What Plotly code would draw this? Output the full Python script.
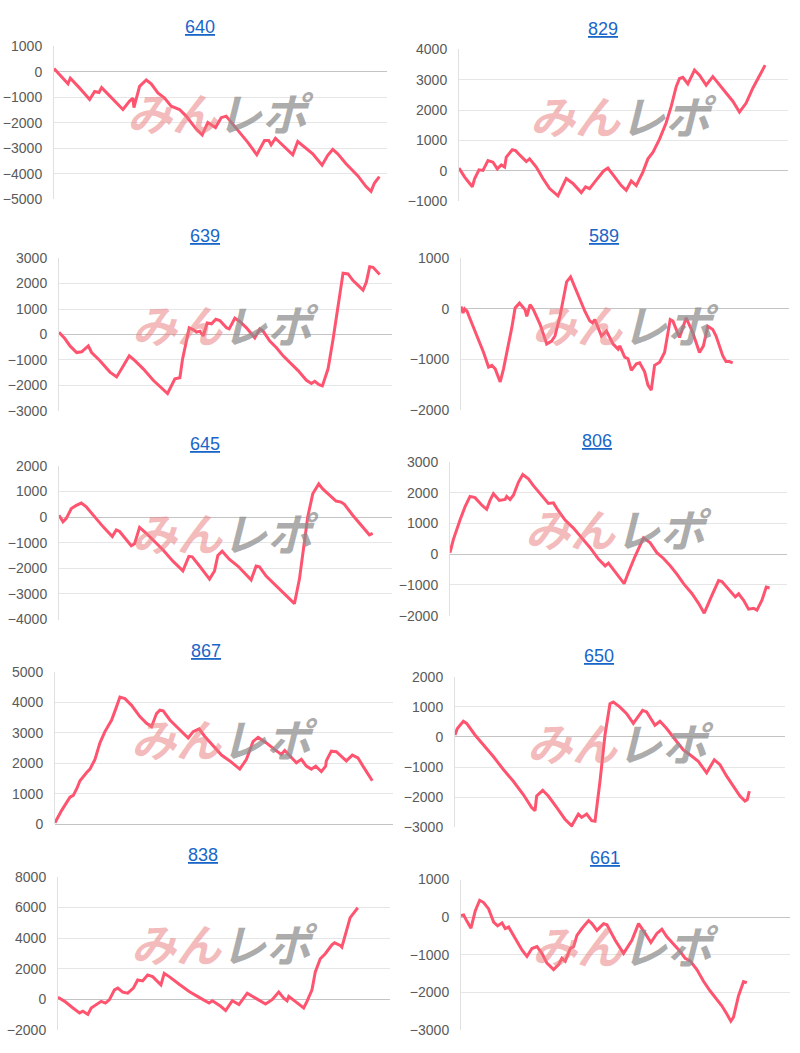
import plotly.graph_objects as go

# ---------------- data (games played vs. medal difference) ----------------
titles = ["640", "829", "639", "589", "645", "806", "867", "650", "838", "661"]

games_640 = [0,216,336,392,496,616,736,856,976,1080,1144,1256,1416,1656,1816,1896,1920,2056,2216,2336,2496,2656,2816,3016,3176,3416,3560,3696,3880,4016,4136,4296,4456,4656,4872,5056,5160,5216,5320,5496,5736,5856,5976,6216,6440,6576,6696,6816,7016,7296,7496,7616,7696,7816]
diff_640 = [130,-250,-470,-250,-450,-640,-860,-1090,-770,-810,-620,-810,-1090,-1480,-1150,-1030,-1410,-570,-320,-470,-830,-1030,-1350,-1480,-1740,-2250,-2480,-1990,-2190,-1800,-1740,-2060,-2380,-2770,-3260,-2700,-2700,-2870,-2610,-2900,-3260,-2740,-2900,-3220,-3670,-3280,-3050,-3220,-3610,-4080,-4510,-4700,-4380,-4120]

games_829 = [0,138,324,381,486,583,705,826,932,1029,1110,1150,1296,1377,1474,1636,1717,1879,2041,2203,2406,2608,2770,2973,3078,3175,3337,3515,3621,3783,3945,4066,4188,4309,4471,4593,4714,4876,5038,5160,5281,5362,5443,5565,5727,5848,6010,6172,6334,6496,6658,6820,6982,7144,7266,7444]
diff_829 = [85,-210,-530,-260,30,10,335,280,60,190,120,450,690,660,520,300,390,120,-260,-590,-830,-260,-420,-720,-530,-590,-310,-10,85,-210,-490,-650,-340,-490,-45,390,600,1040,1580,2120,2770,3040,3080,2860,3320,3150,2820,3100,2820,2540,2290,1930,2230,2720,3040,3480]

games_639 = [0,144,264,424,544,704,784,984,1224,1384,1504,1688,1824,2024,2264,2504,2608,2784,2904,2968,3128,3224,3304,3384,3464,3560,3664,3768,3864,4024,4088,4224,4344,4504,4704,4824,4904,5064,5224,5384,5544,5744,5944,6064,6144,6248,6328,6464,6584,6704,6824,6944,7064,7224,7304,7384,7464,7544,7704]
diff_639 = [90,-170,-450,-710,-680,-450,-710,-1030,-1480,-1670,-1350,-840,-1030,-1350,-1800,-2190,-2320,-1740,-1700,-970,260,190,90,130,-60,450,420,600,550,260,220,640,510,260,-130,220,130,-260,-520,-840,-1090,-1420,-1800,-1930,-1840,-1970,-2020,-1350,-190,1090,2410,2380,2120,1870,1740,2060,2660,2640,2360]

games_589 = [0,49,89,146,227,389,551,672,753,834,956,1037,1158,1239,1320,1426,1563,1604,1685,1766,1928,2090,2211,2292,2414,2495,2576,2673,2738,2900,3021,3143,3208,3264,3426,3548,3710,3831,3872,3993,4074,4155,4277,4358,4479,4560,4641,4722,4844,4965,5103,5168,5330,5492,5654,5816,5913,6018,6140,6221,6383,6464,6545,6626]
diff_589 = [45,-85,-5,-50,-215,-540,-865,-1155,-1120,-1190,-1450,-1190,-735,-375,15,110,-20,-150,80,-20,-310,-700,-640,-540,-150,175,530,630,500,175,-50,-245,-280,-215,-540,-440,-700,-800,-735,-960,-990,-1220,-1090,-1070,-1250,-1510,-1610,-1120,-1060,-865,-215,-245,-570,-180,-475,-865,-735,-345,-410,-540,-930,-1045,-1045,-1070]

games_645 = [0,96,176,296,416,536,656,816,1056,1280,1376,1456,1616,1736,1816,1936,2096,2256,2496,2736,2976,3120,3200,3376,3616,3736,3816,3920,4096,4296,4496,4616,4736,4816,4976,5216,5456,5656,5776,5896,5976,6096,6240,6336,6496,6656,6776,6856,7056,7256,7456,7536]
diff_645 = [75,-180,-50,335,460,550,400,75,-370,-760,-500,-560,-860,-1115,-1040,-400,-630,-885,-1270,-1720,-2100,-1530,-1550,-1910,-2420,-2100,-1500,-1330,-1650,-1910,-2230,-2450,-1910,-1940,-2300,-2680,-3060,-3380,-2420,-885,15,910,1295,1100,850,630,590,500,75,-310,-690,-630]

games_806 = [0,79,238,356,475,594,752,871,950,1030,1172,1307,1346,1426,1505,1624,1727,1861,1980,2138,2336,2455,2534,2732,2930,3128,3326,3524,3683,3762,3920,4134,4237,4396,4594,4752,4910,5069,5227,5386,5544,5742,5900,6035,6217,6376,6455,6613,6772,6851,6970,7088,7207,7286,7405,7508,7587]
diff_806 = [50,475,1110,1540,1880,1840,1600,1460,1750,1970,1750,1780,1880,1780,1920,2340,2590,2450,2230,1970,1650,1670,1490,1110,850,530,210,-160,-380,-290,-590,-960,-590,-60,530,370,50,-140,-380,-650,-960,-1280,-1600,-1920,-1340,-860,-890,-1130,-1390,-1290,-1500,-1790,-1760,-1820,-1500,-1070,-1100]

games_867 = [0,158,355,433,512,591,749,827,946,1064,1182,1340,1442,1537,1655,1812,2009,2167,2285,2403,2482,2561,2719,2955,3152,3270,3412,3546,3743,3940,4137,4373,4531,4689,4807,5004,5201,5358,5437,5555,5713,5831,5949,6068,6170,6304,6406,6422,6540,6659,6816,6895,7037,7171,7289,7407,7510]
diff_867 = [55,460,890,950,1160,1430,1700,1810,2130,2670,3040,3420,3800,4170,4120,3900,3530,3310,3200,3630,3740,3720,3420,3100,2830,3040,3130,2880,2560,2270,2080,1810,2130,2720,2850,2670,2450,2290,2420,2240,2020,2130,1910,1810,1910,1730,1910,2080,2400,2380,2180,2080,2270,2180,1910,1650,1430]

games_650 = [0,57,202,283,485,687,929,1172,1414,1656,1858,1939,1980,2125,2262,2464,2666,2828,2990,3070,3192,3313,3394,3515,3636,3757,3838,4000,4161,4323,4484,4549,4646,4848,4969,5131,5373,5535,5696,5898,6100,6286,6424,6585,6747,6908,7030,7086,7135]
diff_650 = [65,280,520,450,65,-260,-650,-1080,-1470,-1910,-2340,-2450,-1960,-1770,-1960,-2340,-2730,-2950,-2560,-2670,-2560,-2780,-2800,-1470,65,1100,1160,990,770,450,740,880,830,390,520,280,-150,-430,-590,-810,-1190,-760,-920,-1300,-1630,-1960,-2130,-2080,-1800]

games_838 = [0,160,360,520,600,720,800,920,1040,1144,1240,1360,1440,1560,1680,1816,1920,2040,2160,2280,2480,2560,2680,2920,3160,3400,3640,3720,3920,4040,4200,4360,4560,4760,5000,5160,5320,5440,5520,5560,5720,5920,6000,6120,6200,6320,6440,6600,6664,6800,6840,6920,7040,7120,7224]
diff_838 = [140,-120,-550,-870,-760,-970,-550,-330,-120,-230,-10,630,740,480,410,740,1270,1210,1590,1490,950,1700,1490,990,520,140,-230,-80,-440,-720,-80,-330,410,90,-290,-10,480,90,-80,200,-120,-550,-120,630,1800,2650,2980,3560,3690,3520,3410,4150,5330,5610,5970]

games_661 = [0,65,146,243,348,454,551,672,794,891,996,1077,1158,1320,1482,1604,1725,1847,1968,2090,2252,2373,2454,2535,2657,2738,2819,2940,3102,3183,3305,3467,3548,3750,3953,4155,4317,4479,4617,4763,4884,5006,5168,5330,5451,5573,5735,5897,6059,6261,6342,6464,6561,6626,6747,6869,6950]
diff_661 = [45,60,-110,-290,175,450,390,220,-130,-230,-150,-300,-260,-570,-870,-1040,-830,-780,-960,-1220,-1390,-1260,-1090,-1170,-830,-780,-480,-300,-90,-170,-350,-170,-200,-610,-960,-610,-170,-430,-670,-430,-320,-520,-720,-910,-1090,-1160,-1390,-1700,-1960,-2220,-2350,-2570,-2760,-2650,-2090,-1710,-1740]

y_ranges = [(-5000, 1000), (-1000, 4000), (-3000, 3000), (-2000, 1000), (-4000, 2000),
            (-2000, 3000), (0, 5000), (-3000, 2000), (-2000, 8000), (-3000, 1000)]
y_steps = [1000, 1000, 1000, 1000, 1000, 1000, 1000, 1000, 2000, 1000]
x_max_games = 8000

series = [(games_640, diff_640), (games_829, diff_829), (games_639, diff_639), (games_589, diff_589),
          (games_645, diff_645), (games_806, diff_806), (games_867, diff_867), (games_650, diff_650),
          (games_838, diff_838), (games_661, diff_661)]

# ---------------- layout geometry (pixels) ----------------
W, H = 800, 1053
# plot boxes: left, right, top, bottom
boxes = [(54, 387, 39, 194), (459, 788, 42, 196),
         (59, 392, 254, 409), (461, 789, 254, 408),
         (59, 392, 465, 621), (450, 787, 461, 617),
         (55, 393, 674, 829), (455, 785, 679, 832),
         (58, 390, 882, 1038), (461, 790, 885, 1038)]
title_pos = [(200, 19), (603, 21), (205, 232), (604, 232), (205, 443),
             (597, 440), (206, 653), (599, 658), (203, 860), (605, 863)]

LINE = "rgb(255,84,112)"
fig = go.Figure()
layout = dict(width=W, height=H, margin=dict(l=0, r=0, t=0, b=0),
              paper_bgcolor="white", plot_bgcolor="white", showlegend=False)
annotations = []

for i, ((gx, dy), (L, R, T, B), (y0, y1), step) in enumerate(zip(series, boxes, y_ranges, y_steps)):
    n = "" if i == 0 else str(i + 1)
    fig.add_trace(go.Scatter(x=gx, y=dy, mode="lines", xaxis="x" + n, yaxis="y" + n,
                             line=dict(color=LINE, width=3), hoverinfo="skip"))
    layout["xaxis" + n] = dict(domain=[L / W, R / W], range=[0, x_max_games], anchor="y" + n,
                               showgrid=False, zeroline=False, showticklabels=False,
                               showline=False, ticks="", fixedrange=True)
    layout["yaxis" + n] = dict(domain=[1 - B / H, 1 - T / H], range=[y0, y1], anchor="x" + n,
                               dtick=step, tick0=0, showgrid=True, gridcolor="#e6e6e6", gridwidth=1,
                               zeroline=True, zerolinecolor="#c4c4c4", zerolinewidth=1,
                               showline=True, linecolor="#e0e0e0", linewidth=1,
                               ticks="", ticklabelstandoff=8,
                               tickfont=dict(family="Liberation Sans, Arial, sans-serif", size=14, color="#5a5a5a"),
                               fixedrange=True)
    tx, ty = title_pos[i]
    annotations.append(dict(text="<u>" + titles[i] + "</u>", x=tx / W, y=1 - ty / H, xref="paper", yref="paper",
                            xanchor="center", yanchor="middle", showarrow=False,
                            font=dict(family="Liberation Sans, Arial, sans-serif", size=18, color="#1a66c8")))
    cx = (L + R) / 2
    cy = (T + B) / 2 - 11
    annotations.append(dict(
        text="<b><i><span style='color:rgba(232,120,120,0.5)'>みん</span>"
             "<span style='color:rgba(140,140,140,0.72)'>レポ</span></i></b>",
        x=cx / W, y=1 - cy / H, xref="paper", yref="paper", xanchor="center", yanchor="middle",
        showarrow=False, font=dict(family="Noto Sans CJK JP", size=45, weight=900)))

layout["annotations"] = annotations
fig.update_layout(**layout)
fig.write_html("out.html")
